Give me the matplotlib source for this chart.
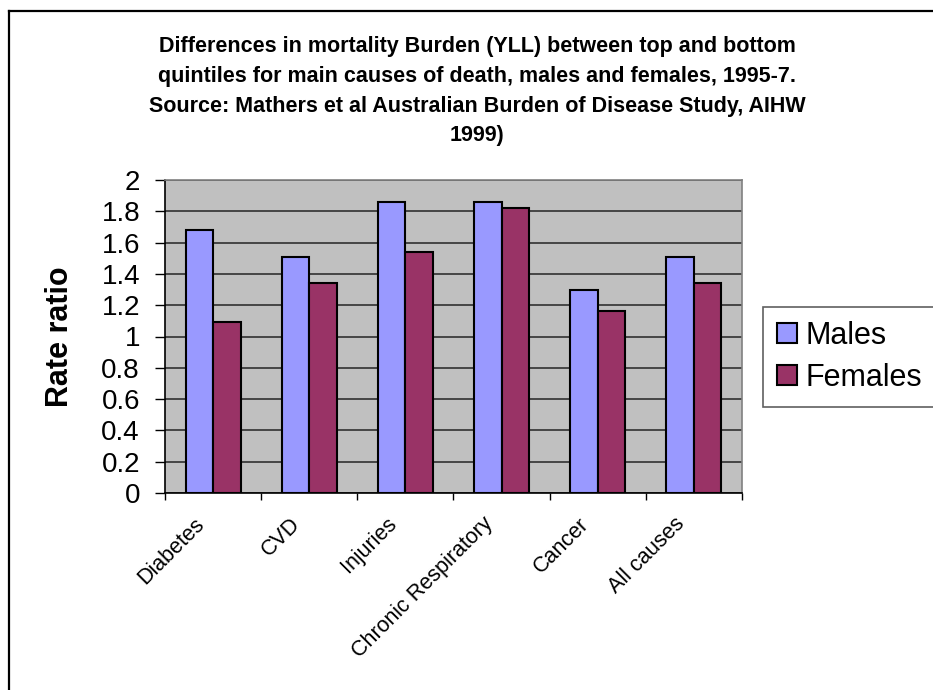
import numpy as np
import matplotlib.pyplot as plt
import matplotlib.transforms as mtransforms
from matplotlib.patches import Patch
from matplotlib.lines import Line2D

plt.rcParams['font.family'] = ['Liberation Sans', 'DejaVu Sans']

# --- data ---
causes = ["Diabetes", "CVD", "Injuries", "Chronic Respiratory", "Cancer", "All causes"]
males = [1.68, 1.51, 1.86, 1.86, 1.30, 1.51]
females = [1.09, 1.34, 1.54, 1.82, 1.16, 1.34]
yticks = [0, 0.2, 0.4, 0.6, 0.8, 1, 1.2, 1.4, 1.6, 1.8, 2]
ytick_labels = ["0", "0.2", "0.4", "0.6", "0.8", "1", "1.2", "1.4", "1.6", "1.8", "2"]

male_color = "#9999FF"
female_color = "#993366"

W, H = 933, 690
fig = plt.figure(figsize=(W / 100, H / 100), dpi=100)
ax = fig.add_axes([165 / W, 1 - 493 / H, 577 / W, 313 / H])
ax.set_facecolor("#C0C0C0")

x = np.arange(len(causes))
bw = 1 / 3.5   # gap width 150%
ax.bar(x - bw / 2, males, bw, color=male_color, edgecolor="black", linewidth=1.5, zorder=3)
ax.bar(x + bw / 2, females, bw, color=female_color, edgecolor="black", linewidth=1.5, zorder=3)

ax.set_xlim(-0.5, len(causes) - 0.5)
ax.set_ylim(0, 2)

# horizontal gridlines
ax.set_yticks(yticks)
ax.set_yticklabels(ytick_labels, fontsize=20)
ax.yaxis.grid(True, color="#303030", linewidth=1.2, zorder=1)
ax.set_axisbelow(True)
ax.tick_params(axis="y", direction="out", length=7, width=1, pad=11)

# ticks between categories, labels at category centres
ax.set_xticks(np.arange(len(causes) + 1) - 0.5)
ax.set_xticklabels([])
ax.tick_params(axis="x", which="major", direction="out", length=5, width=1)
ax.set_xticks(x, minor=True)
ax.set_xticklabels(causes, minor=True, fontsize=15.5, rotation=45,
                   ha="right", va="center", rotation_mode="anchor")
ax.tick_params(axis="x", which="minor", length=0, pad=20)
shift = mtransforms.ScaledTranslation(-0.12, 0, fig.dpi_scale_trans)
for lbl in ax.get_xticklabels(minor=True):
    lbl.set_transform(lbl.get_transform() + shift)

for side in ["top", "right"]:
    ax.spines[side].set_color("#808080")
    ax.spines[side].set_linewidth(1.2)
for side in ["left", "bottom"]:
    ax.spines[side].set_color("black")
    ax.spines[side].set_linewidth(1.2)

fig.text(477 / W, 1 - 36 / H,
         "Differences in mortality Burden (YLL) between top and bottom\n"
         "quintiles for main causes of death, males and females, 1995-7.\n"
         "Source: Mathers et al Australian Burden of Disease Study, AIHW\n"
         "1999)",
         ha="center", va="top", fontsize=15.5, fontweight="bold", linespacing=1.55)

fig.text(60 / W, 1 - 337 / H, "Rate ratio", rotation=90, ha="center", va="center",
         fontsize=22, fontweight="bold")

handles = [Patch(facecolor=male_color, edgecolor="black", linewidth=1.5),
           Patch(facecolor=female_color, edgecolor="black", linewidth=1.5)]
leg = fig.legend(handles, ["Males", "Females"], loc="upper left",
                 bbox_to_anchor=(763 / W, 1 - 307 / H), borderaxespad=0,
                 fontsize=22, handlelength=0.65, handleheight=0.65,
                 handletextpad=0.3, borderpad=0.45, labelspacing=0.4,
                 fancybox=False, framealpha=1, edgecolor="#606060")
leg.get_frame().set_linewidth(1.2)

# outer frame of the chart
fig.add_artist(Line2D([9 / W, 1], [1 - 11 / H, 1 - 11 / H], color="black", linewidth=1.6))
fig.add_artist(Line2D([9 / W, 9 / W], [0, 1 - 11 / H], color="black", linewidth=1.6))

fig.savefig("out.png", dpi=100)
